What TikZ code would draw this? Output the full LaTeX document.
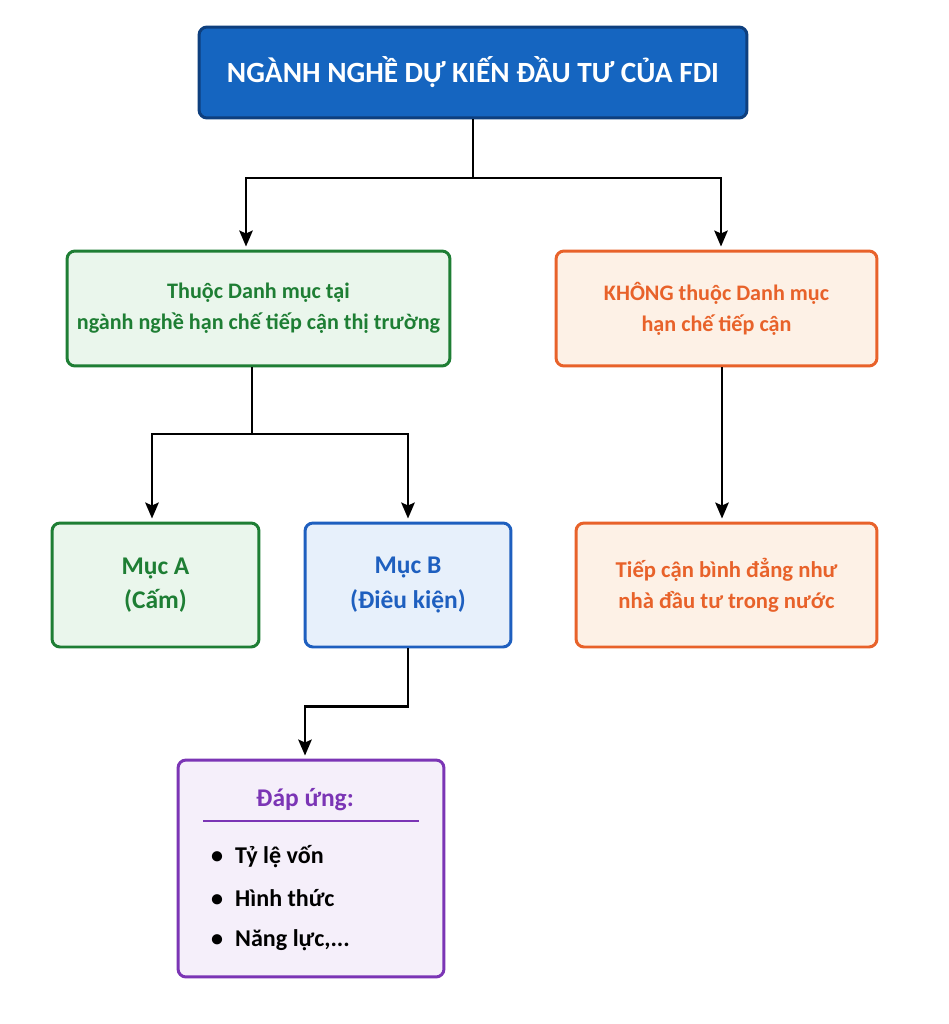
\documentclass[tikz,border=0pt]{standalone}
\usepackage{fontspec}
\setmainfont{Carlito}
\usetikzlibrary{arrows.meta}

\definecolor{topblue}{HTML}{1565C0}
\definecolor{topedge}{HTML}{0E3F7E}
\definecolor{grnedge}{HTML}{1E7E34}
\definecolor{grnfill}{HTML}{EAF6EC}
\definecolor{orgedge}{HTML}{E8622A}
\definecolor{orgfill}{HTML}{FDF1E6}
\definecolor{bluedge}{HTML}{1E5FBF}
\definecolor{blufill}{HTML}{E7F0FB}
\definecolor{purpedge}{HTML}{7B35B5}
\definecolor{purpfill}{HTML}{F5EFFA}

\begin{document}
\begin{tikzpicture}[
  x=0.02cm, y=-0.02cm,
  box/.style     = {draw, rounded corners=0.16cm, line width=1.7pt, align=center,
                    font=\fontsize{12.6}{17.5}\selectfont\bfseries},
  topbox/.style  = {box, fill=topblue, draw=topedge, text=white,
                    font=\fontsize{16.7}{19}\selectfont\bfseries},
  grnbox/.style  = {box, fill=grnfill, draw=grnedge, text=grnedge},
  orgbox/.style  = {box, fill=orgfill, draw=orgedge, text=orgedge},
  blubox/.style  = {box, fill=blufill, draw=bluedge, text=bluedge},
  mucfont/.style = {font=\fontsize{14.5}{19.5}\selectfont\bfseries},
  purpbox/.style = {box, fill=purpfill, draw=purpedge},
  item/.style    = {anchor=west, font=\fontsize{13.7}{16}\selectfont\bfseries},
  arr/.style     = {line width=1.3pt, -{Stealth[length=0.32cm, width=0.27cm, inset=0.06cm]},
                    shorten >=0.06cm}
]
\fill[white] (0,0) rectangle (949,1024);
\useasboundingbox (0,0) rectangle (949,1024);

% ---- TOP ----
\node[topbox, minimum width=10.96cm, minimum height=1.82cm] (fdi) at (473,72.5)
  {NGÀNH NGHỀ DỰ KIẾN ĐẦU TƯ CỦA FDI};

% ---- LEVEL 1 ----
\node[grnbox, minimum width=7.66cm, minimum height=2.3cm] (thuoc) at (258.5,308.5)
  {Thuộc Danh mục tại\\ngành nghề hạn chế tiếp cận thị trường};
\node[orgbox, minimum width=6.42cm, minimum height=2.3cm] (khong) at (716.5,308.5)
  {KHÔNG thuộc Danh mục\\hạn chế tiếp cận};

% ---- LEVEL 2 ----
\node[grnbox, mucfont, minimum width=4.14cm, minimum height=2.48cm] (mucA) at (155.5,585)
  {Mục A\\(Cấm)};
\node[blubox, mucfont, minimum width=4.12cm, minimum height=2.48cm] (mucB) at (408,585)
  {Mục B\\(Điêu kiện)};
\node[orgbox, font=\fontsize{12.9}{17.5}\selectfont\bfseries,
      minimum width=6.02cm, minimum height=2.48cm] (binhdang) at (726.5,585)
  {Tiếp cận bình đẳng như\\nhà đầu tư trong nước};

% ---- LEVEL 3 ----
\node[purpbox, minimum width=5.32cm, minimum height=4.34cm] (dapung) at (311,868.5) {};
\node[font=\fontsize{14.5}{16}\selectfont\bfseries, text=purpedge] (dapungT) at (305,800) {Đáp ứng:};
\draw[purpedge, line width=1pt] (203,821) -- (419,821);
\node[item] (tyle)     at (205,857) {\textbullet\enspace Tỷ lệ vốn};
\node[item] (hinhthuc) at (205,898) {\textbullet\enspace Hình thức};
\node[item] (nangluc)  at (205,940) {\textbullet\enspace Năng lực,...};

% ---- CONNECTORS ----
\coordinate (j1) at (fdi.south |- 0,178);
\coordinate (s1) at ([xshift=-0.13cm]thuoc.south);
\coordinate (j2) at (s1 |- 0,434);
\draw[arr] (fdi.south) -- (j1) -| ([xshift=-0.25cm]thuoc.north);
\draw[arr] (j1) -| ([xshift=0.09cm]khong.north);
\draw[arr] (s1) -- (j2) -| ([xshift=-0.07cm]mucA.north);
\draw[arr] (j2) -| (mucB.north);
\draw[arr] ([xshift=-0.09cm]binhdang.north |- khong.south) -- ([xshift=-0.09cm]binhdang.north);
\draw[arr] (mucB.south) -- ++(0,58) -| ([xshift=-0.12cm]dapung.north);

\end{tikzpicture}
\end{document}
